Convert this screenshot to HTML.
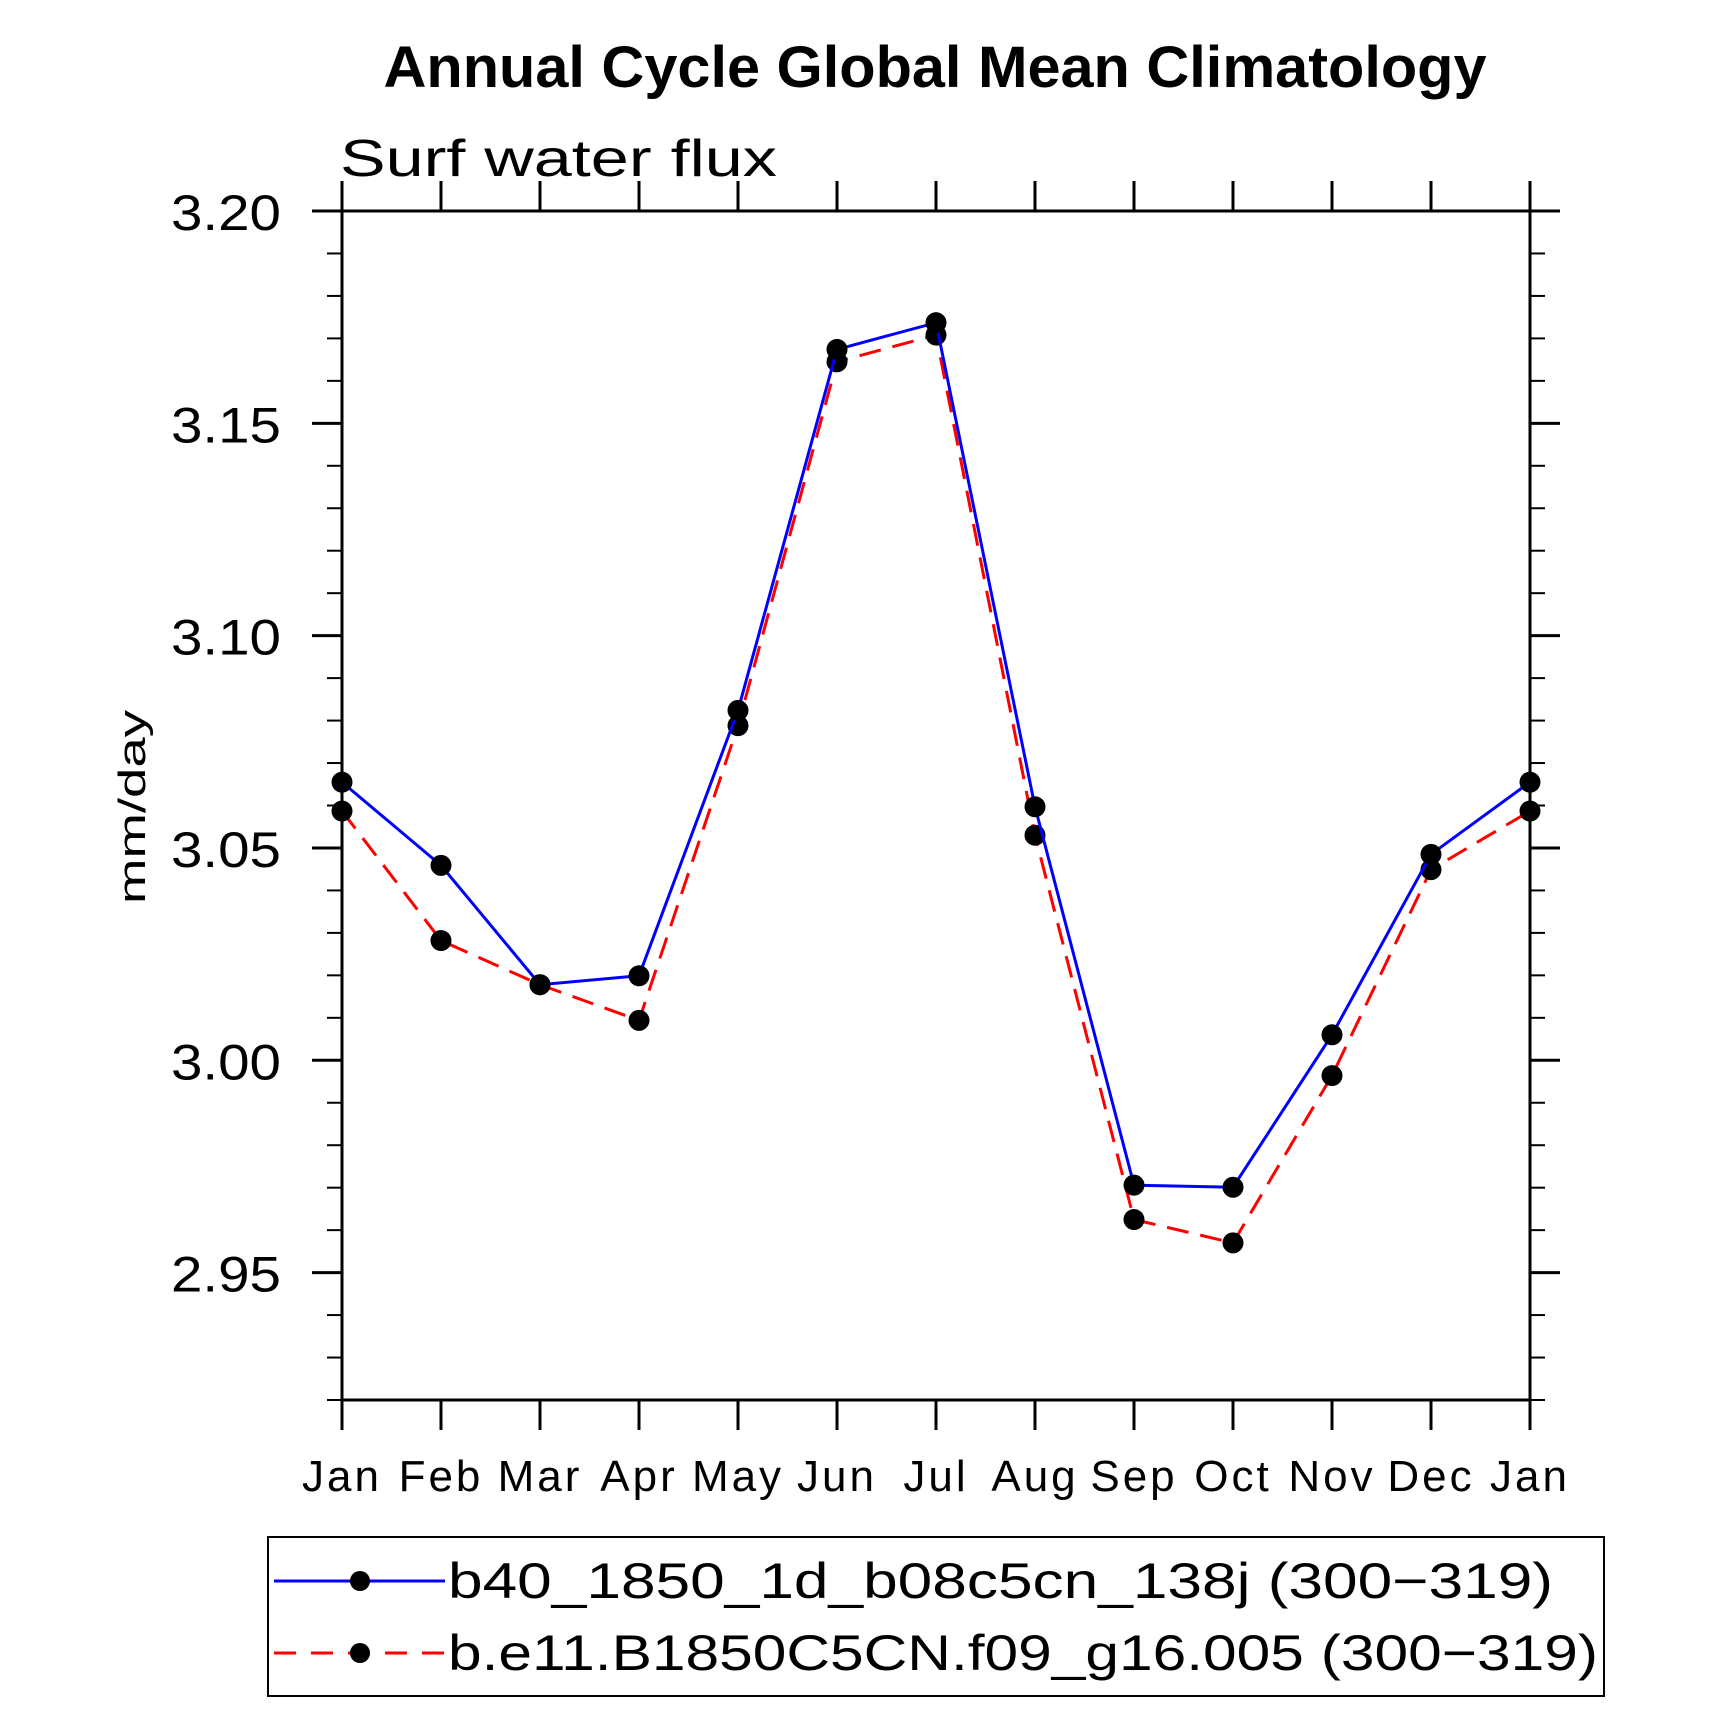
<!DOCTYPE html>
<html><head><meta charset="utf-8"><style>
html,body{margin:0;padding:0;background:#fff;}
svg{display:block;font-family:"Liberation Sans",sans-serif;}
</style></head><body>
<svg id="chart" width="1710" height="1736" viewBox="0 0 1710 1736" xmlns="http://www.w3.org/2000/svg">
<text x="935" y="87" text-anchor="middle" font-size="58" font-weight="bold" textLength="1103" lengthAdjust="spacingAndGlyphs">Annual Cycle Global Mean Climatology</text>
<text x="340" y="176" font-size="52" textLength="437" lengthAdjust="spacingAndGlyphs">Surf  water flux</text>
<text transform="translate(145,807) rotate(-90)" text-anchor="middle" font-size="38" textLength="194" lengthAdjust="spacingAndGlyphs">mm/day</text>
<g id="axes"></g>
<g id="series"></g>
<g>
<rect x="268" y="1537" width="1336" height="159" fill="none" stroke="#000" stroke-width="2"/>
<g>
<line x1="274" y1="1581" x2="445" y2="1581" stroke="#0000ff" stroke-width="3"/>
<circle cx="360" cy="1581" r="10" fill="#000"/>
<text x="448" y="1598" font-size="50" textLength="1105" lengthAdjust="spacingAndGlyphs">b40_1850_1d_b08c5cn_138j (300−319)</text>
</g>
<g>
<line x1="274" y1="1653" x2="445" y2="1653" stroke="#ff0000" stroke-width="3" stroke-dasharray="22,15"/>
<circle cx="360" cy="1653" r="10" fill="#000"/>
<text x="448" y="1670" font-size="50" textLength="1150" lengthAdjust="spacingAndGlyphs">b.e11.B1850C5CN.f09_g16.005 (300−319)</text>
</g>
</g>
</svg>
<script>
const months = ["Jan","Feb","Mar","Apr","May","Jun","Jul","Aug","Sep","Oct","Nov","Dec","Jan"];
const seriesB40 = [3.0655,3.0459,3.0178,3.0199,3.0824,3.1674,3.1737,3.0597,2.9706,2.9701,3.0060,3.0485,3.0655];
const seriesE11 = [3.0587,3.0282,3.0178,3.0094,3.0788,3.1645,3.1708,3.0530,2.9625,2.9570,2.9964,3.0449,3.0587];
const yTickLabels = ["2.95","3.00","3.05","3.10","3.15","3.20"];
const yMin = 2.92, yMax = 3.20;

const L=342,R=1530,T=211,B=1400;
const NS="http://www.w3.org/2000/svg";
function xs(i){return L+(R-L)*i/(months.length-1);}
function ys(v){return B-(B-T)*(v-yMin)/(yMax-yMin);}
function mk(tag,attrs,parent){const e=document.createElementNS(NS,tag);for(const k in attrs)e.setAttribute(k,attrs[k]);parent.appendChild(e);return e;}
const axes=document.getElementById('axes');
const frame=mk('rect',{x:L,y:T,width:R-L,height:B-T,fill:'none',stroke:'#000','stroke-width':3},axes);


for(let k=0;k<=28;k++){
  const v=yMin+k*0.01, y=ys(v);
  const major = Math.abs((v*100)%5)<0.01 || Math.abs((v*100)%5-5)<0.01;
  const len = major?30:15, w = major?3:2;
  mk('line',{x1:L-len,y1:y,x2:L,y2:y,stroke:'#000','stroke-width':w},axes);
  mk('line',{x1:R,y1:y,x2:R+len,y2:y,stroke:'#000','stroke-width':w},axes);
}
yTickLabels.forEach(s=>{
  const t=mk('text',{x:281,y:ys(parseFloat(s))+19,'text-anchor':'end','font-size':'50',textLength:'110',lengthAdjust:'spacingAndGlyphs'},axes);
  t.textContent=s;
  
  
});
months.forEach((m,i)=>{
  const x=xs(i);
  mk('line',{x1:x,y1:T-30,x2:x,y2:T,stroke:'#000','stroke-width':3},axes);
  mk('line',{x1:x,y1:B,x2:x,y2:B+30,stroke:'#000','stroke-width':3},axes);
  const t=mk('text',{x:x,y:1491,'text-anchor':'middle','font-size':'44','letter-spacing':'3'},axes);
  t.textContent=m;
  
  
});
const sg=document.getElementById('series');
function drawSeries(vals,color,dash,name){
  const pts=vals.map((v,i)=>xs(i)+','+ys(v)).join(' ');
  const attrs={points:pts,fill:'none',stroke:color,'stroke-width':3};
  if(dash)attrs['stroke-dasharray']=dash;
  const pl=mk('polyline',attrs,sg);
  
  
  vals.forEach((v,i)=>{
    const c=mk('circle',{cx:xs(i),cy:ys(v),r:10.5,fill:'#000'},sg);
    
    
  });
}
drawSeries(seriesE11,'#ff0000','22,12','series-b-e11');
drawSeries(seriesB40,'#0000ff',null,'series-b40');
</script>
</body></html>
